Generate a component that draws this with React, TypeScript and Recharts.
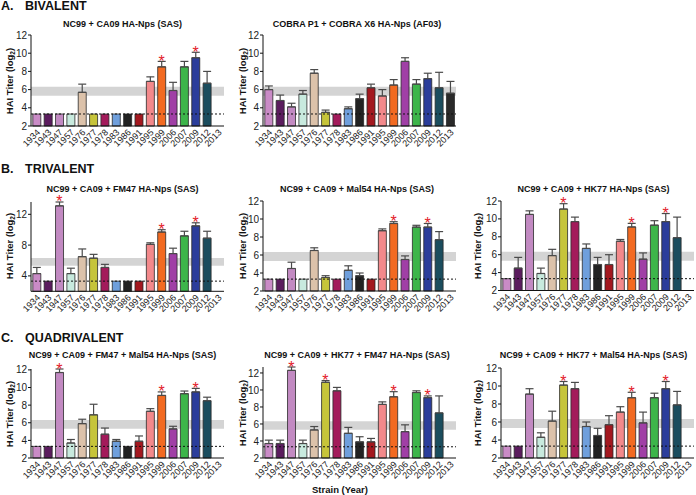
import React from 'react';
import {
  ComposedChart,
  Bar,
  Cell,
  XAxis,
  YAxis,
  ErrorBar,
  ReferenceArea,
  ReferenceLine,
  Scatter,
} from 'recharts';

const STRAINS = ['1934', '1943', '1947', '1957', '1976', '1977', '1978', '1983', '1986', '1991', '1995', '1999', '2006', '2007', '2009', '2012', '2013'];

const STRAIN_COLORS = [
  '#c98bc6', '#5b1c5e', '#c28ac2', '#c8eade', '#dcc2aa', '#c6c43a', '#a31b5b', '#6f9fdc', '#222222',
  '#a3181f', '#f3898b', '#f26a21', '#a03fa6', '#3db54a', '#2b3d9b', '#1b4d5e', '#2a2a2a',
];

const Y_TICKS = [2, 4, 6, 8, 10, 12];
const LOD = 3.32;
const BAND_LOW = 5.32;
const BAND_HIGH = 6.32;

// A. bivalent
const A1_MEAN = [3.32, 3.32, 3.32, 3.32, 5.7, 3.32, 3.32, 3.32, 3.32, 3.32, 6.9, 8.5, 5.9, 8.5, 9.5, 6.7, null];
const A1_SEM = [0, 0, 0, 0, 0.9, 0, 0, 0, 0, 0, 0.5, 0.6, 0.9, 0.6, 0.6, 1.3, null];
const A1_SIG = ['1999', '2009'];

const A2_MEAN = [6.0, 4.8, 4.1, 5.5, 7.8, 3.5, 3.32, 3.9, 5.0, 6.2, 5.3, 6.5, 9.1, 6.6, 7.2, 6.2, 5.6];
const A2_SEM = [0.4, 0.6, 0.4, 0.4, 0.4, 0.25, 0, 0.2, 0.5, 0.4, 0.7, 0.6, 0.4, 0.5, 0.6, 1.7, 1.3];
const A2_SIG: string[] = [];

// B. trivalent
const B1_MEAN = [4.3, 3.32, 13.1, 4.3, 6.5, 6.3, 5.1, 3.32, 3.32, 3.32, 8.1, 9.7, 6.9, 9.2, 10.5, 8.9, null];
const B1_SEM = [0.8, 0, 0.5, 0.7, 1.0, 0.5, 0.4, 0, 0, 0, 0.2, 0.3, 0.7, 0.6, 0.4, 0.9, null];
const B1_SIG = ['1947', '1999', '2009'];

const B2_MEAN = [3.32, 3.32, 4.5, 3.32, 6.5, 3.5, 3.32, 4.3, 3.7, 3.32, 8.7, 9.5, 5.5, 9.1, 9.1, 7.7, null];
const B2_SEM = [0, 0, 0.7, 0, 0.3, 0.2, 0, 0.5, 0.3, 0, 0.2, 0.2, 0.4, 0.2, 0.4, 0.9, null];
const B2_SIG = ['1999', '2009'];

const B3_MEAN = [3.32, 4.5, 10.5, 3.9, 5.9, 11.1, 9.7, 6.7, 4.9, 4.9, 7.5, 9.1, 5.5, 9.3, 9.7, 7.9, null];
const B3_SEM = [0, 1.2, 0.4, 0.6, 0.7, 0.6, 0.5, 0.5, 0.8, 1.1, 0.2, 0.4, 0.7, 0.5, 0.9, 2.3, null];
const B3_SIG = ['1977', '1999', '2009'];

// C. quadrivalent
const C1_MEAN = [3.32, 3.32, 11.7, 3.7, 5.9, 6.9, 4.7, 3.9, 3.32, 3.9, 7.3, 9.1, 5.3, 9.3, 9.5, 8.5, null];
const C1_SEM = [0, 0, 0.4, 0.4, 0.5, 1.2, 0.7, 0.2, 0, 0.6, 0.3, 0.4, 0.3, 0.3, 0.4, 0.4, null];
const C1_SIG = ['1947', '1999', '2009'];

const C2_MEAN = [3.7, 3.7, 12.3, 3.7, 5.3, 10.9, 9.9, 4.9, 3.9, 3.9, 8.3, 9.2, 5.1, 9.7, 9.1, 7.3, null];
const C2_SEM = [0.4, 0.4, 0.4, 0.4, 0.4, 0.2, 0.4, 0.7, 0.6, 0.4, 0.3, 0.6, 0.8, 0.2, 0.2, 2.0, null];
const C2_SIG = ['1947', '1977', '1999', '2009'];

const C3_MEAN = [3.32, 3.32, 9.1, 4.3, 6.1, 10.1, 9.7, 5.5, 4.5, 5.7, 7.1, 8.7, 5.9, 8.7, 9.7, 7.9, null];
const C3_SEM = [0, 0, 0.6, 0.5, 1.1, 0.4, 0.7, 0.5, 0.8, 1.0, 0.6, 0.6, 1.2, 0.5, 0.8, 1.5, null];
const C3_SIG = ['1977', '1999', '2009'];

const FONT = '"Liberation Sans", Arial, sans-serif';

const buildRows = (mean: (number | null)[], sem: (number | null)[], sig: string[]) =>
  STRAINS.map((year, i) => ({
    year,
    titer: mean[i],
    err: mean[i] == null || !sem[i] ? null : [0, sem[i]],
    star: sig.includes(year) && mean[i] != null ? (mean[i] as number) + (sem[i] || 0) : null,
  }));

const XTick = (props: any) => {
  const { x, y, payload } = props;
  const tx = x + 4;
  const ty = y + 7;
  return (
    <text x={tx} y={ty} transform={`rotate(-45 ${tx} ${ty})`} textAnchor="end" fontSize={9} fill="#222">
      {payload.value}
    </text>
  );
};

const Star = (props: any) => {
  const { cx, cy, payload } = props;
  if (payload == null || payload.star == null || !Number.isFinite(cy)) return <g />;
  return (
    <text x={cx} y={cy + 5.5} textAnchor="middle" fontSize={16} fill="#e3202a">
      *
    </text>
  );
};

type PanelProps = {
  title: string;
  rows: ReturnType<typeof buildRows>;
  left: number;
  right: number;
  top: number;
  bottom: number;
  yMax: number;
  titleX: number;
  titleTop: number;
  labelX: number;
};

const Panel = ({ title, rows, left, right, top, bottom, yMax, titleX, titleTop, labelX }: PanelProps) => {
  const axisW = 31;
  const marginTop = 12;
  const xAxisH = 40;
  const width = right - left + axisW + 3;
  const height = bottom - top + marginTop + xAxisH;
  return (
    <>
      <div
        style={{
          position: 'absolute', left: titleX - 120, top: titleTop, width: 240, textAlign: 'center',
          fontSize: 9, fontWeight: 'bold', lineHeight: '9px', color: '#111',
        }}
      >
        {title}
      </div>
      <div
        style={{
          position: 'absolute', left: labelX - 60, top: (top + bottom) / 2 - 6, width: 120, height: 12,
          textAlign: 'center', fontSize: 9.5, fontWeight: 'bold', lineHeight: '12px', color: '#111',
          transform: 'rotate(-90deg)',
        }}
      >
        HAI Titer (log<sub style={{ fontSize: 6.5, verticalAlign: '-2px' }}>2</sub>)
      </div>
      <div style={{ position: 'absolute', left: left - axisW, top: top - marginTop }}>
        <ComposedChart
          width={width}
          height={height}
          data={rows}
          margin={{ top: marginTop, right: 3, bottom: 0, left: 0 }}
          barCategoryGap="16%"
        >
          <ReferenceArea y1={BAND_LOW} y2={BAND_HIGH} fill="#d4d4d4" fillOpacity={1} stroke="none" />
          <XAxis
            dataKey="year"
            interval={0}
            height={xAxisH}
            tick={<XTick />}
            tickLine={false}
            tickSize={0}
            tickMargin={0}
            axisLine={{ stroke: '#111', strokeWidth: 1 }}
          />
          <YAxis
            type="number"
            domain={[2, yMax]}
            ticks={Y_TICKS}
            width={axisW}
            tickSize={3}
            tickMargin={1}
            tick={{ fontSize: 10, fill: '#222' }}
            axisLine={{ stroke: '#111', strokeWidth: 1 }}
            tickLine={{ stroke: '#111', strokeWidth: 1 }}
          />
          <Bar dataKey="titer" stroke="#2a2a2a" strokeWidth={0.8} isAnimationActive={false}>
            {rows.map((r, i) => (
              <Cell key={r.year} fill={STRAIN_COLORS[i]} />
            ))}
            <ErrorBar dataKey="err" direction="y" width={4} stroke="#4a4a4a" strokeWidth={1.2} />
          </Bar>
          <ReferenceLine y={LOD} stroke="#111" strokeDasharray="2 2" strokeWidth={1} />
          <Scatter dataKey="star" shape={<Star />} isAnimationActive={false} />
        </ComposedChart>
      </div>
    </>
  );
};

const Heading = ({ letter, text, top }: { letter: string; text: string; top: number }) => (
  <div style={{ position: 'absolute', left: 1, top, fontSize: 12.5, fontWeight: 'bold', lineHeight: '13px', color: '#111', whiteSpace: 'pre' }}>
    <span>{letter}</span>
    <span style={{ position: 'absolute', left: 24 }}>{text}</span>
  </div>
);

export default function App() {
  return (
    <div style={{ position: 'absolute', left: 0, top: 0, width: 696, height: 495, background: '#fff', fontFamily: FONT, overflow: 'hidden' }}>
      <Heading letter="A." text="BIVALENT" top={0} />
      <Heading letter="B." text="TRIVALENT" top={163} />
      <Heading letter="C." text="QUADRIVALENT" top={332} />

      <Panel title="NC99 + CA09 HA-Nps (SAS)" rows={buildRows(A1_MEAN, A1_SEM, A1_SIG)}
        left={31} right={224} top={35} bottom={126} yMax={12} titleX={122.5} titleTop={19.5} labelX={10} />
      <Panel title="COBRA P1 + COBRA X6 HA-Nps (AF03)" rows={buildRows(A2_MEAN, A2_SEM, A2_SIG)}
        left={263} right={456} top={35} bottom={126} yMax={12} titleX={357} titleTop={19.5} labelX={243} />

      <Panel title="NC99 + CA09 + FM47 HA-Nps (SAS)" rows={buildRows(B1_MEAN, B1_SEM, B1_SIG)}
        left={31} right={224} top={201.7} bottom={291} yMax={13.6} titleX={122.5} titleTop={184.5} labelX={10} />
      <Panel title="NC99 + CA09 + Mal54 HA-Nps (SAS)" rows={buildRows(B2_MEAN, B2_SEM, B2_SIG)}
        left={263} right={456} top={201} bottom={291} yMax={12} titleX={357} titleTop={184.5} labelX={243} />
      <Panel title="NC99 + CA09 + HK77 HA-Nps (SAS)" rows={buildRows(B3_MEAN, B3_SEM, B3_SIG)}
        left={501} right={694} top={201} bottom={290.5} yMax={12} titleX={593.5} titleTop={184.5} labelX={478} />

      <Panel title="NC99 + CA09 + FM47 + Mal54 HA-Nps (SAS)" rows={buildRows(C1_MEAN, C1_SEM, C1_SIG)}
        left={31} right={224} top={369} bottom={458} yMax={12} titleX={122.5} titleTop={351} labelX={10} />
      <Panel title="NC99 + CA09 + HK77 + FM47 HA-Nps (SAS)" rows={buildRows(C2_MEAN, C2_SEM, C2_SIG)}
        left={263} right={456} top={367} bottom={458} yMax={12.7} titleX={357} titleTop={351} labelX={243} />
      <Panel title="NC99 + CA09 + HK77 + Mal54 HA-Nps (SAS)" rows={buildRows(C3_MEAN, C3_SEM, C3_SIG)}
        left={501} right={694} top={368} bottom={458} yMax={12} titleX={593.5} titleTop={351} labelX={478} />

      <div style={{ position: 'absolute', left: 280, top: 484, width: 120, textAlign: 'center', fontSize: 9.5, fontWeight: 'bold', lineHeight: '11px', color: '#111' }}>
        Strain (Year)
      </div>
    </div>
  );
}
